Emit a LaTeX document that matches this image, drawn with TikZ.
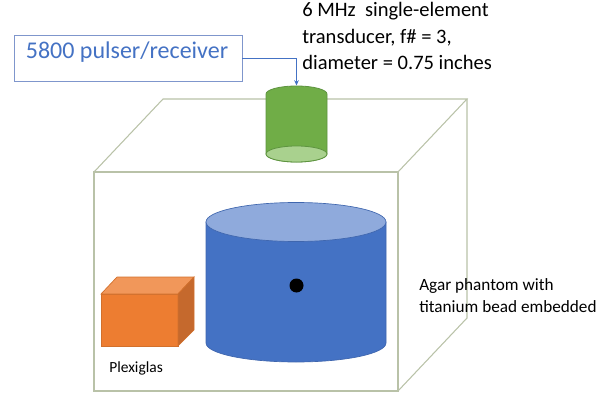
\documentclass[tikz,border=0pt]{standalone}
\usepackage{fontspec}
\setmainfont{Carlito}
\usetikzlibrary{arrows.meta}
\definecolor{phantomline}{HTML}{B9C2A8}
\definecolor{pulserblue}{HTML}{4472C4}
\definecolor{pulserline}{HTML}{7F96CC}
\definecolor{agarside}{HTML}{4472C4}
\definecolor{agartop}{HTML}{8FAADC}
\definecolor{agarline}{HTML}{3F66AE}
\definecolor{xdcrside}{HTML}{70AD47}
\definecolor{xdcrface}{HTML}{A9D18E}
\definecolor{xdcrline}{HTML}{5E9440}
\definecolor{plexfront}{HTML}{ED7D31}
\definecolor{plextop}{HTML}{F1975A}
\definecolor{plexside}{HTML}{C5692D}
\definecolor{plexline}{HTML}{D2702C}
\tikzset{
  phantom/.style={draw=phantomline,line width=0.8pt},
  agar/.style={draw=agarline,line width=0.5pt},
  xdcr/.style={draw=xdcrline,line width=0.6pt},
  plex/.style={draw=plexline,line width=0.5pt},
  signal/.style={draw=pulserblue,line width=0.6pt,-{Stealth[length=4pt,width=3.5pt]}},
  caption/.style={anchor=west,align=left,inner sep=0pt,text=black}
}
\begin{document}
\begin{tikzpicture}[x=0.75pt,y=-0.75pt]
        \useasboundingbox (0,0) rectangle (600,403);

        % agar box
        \draw[phantom] (94,172) rectangle (398,391);
        \draw[phantom] (94,172) -- (163,99) -- (467,99) -- (398,172);
        \draw[phantom] (467,99) -- (467,318) -- (398,391);

        % transducer
        \path[xdcr,fill=xdcrside] (266,94) arc[start angle=180,end angle=360,x radius=30.5,y radius=8]
          -- (327,154) arc[start angle=0,end angle=180,x radius=30.5,y radius=8] -- cycle;
        \draw[xdcr,fill=xdcrface] (296.5,154) ellipse[x radius=30.5,y radius=8];
        \coordinate (xdcrtop) at (296.5,85.5);

        % agar cylinder
        \path[agar,fill=agarside] (206,222) -- (206,343) arc[start angle=180,end angle=0,x radius=90,y radius=19]
          -- (386,222) -- cycle;
        \draw[agar,fill=agartop] (296,222) ellipse[x radius=90,y radius=19.5];
        \fill[black] (296.5,285.5) circle[radius=7];

        % plexiglas
        \path[plex,fill=plexfront] (101,294) rectangle (178,346);
        \path[plex,fill=plextop] (101,294) -- (117,277) -- (194,277) -- (178,294) -- cycle;
        \path[plex,fill=plexside] (178,294) -- (194,277) -- (194,330) -- (178,346) -- cycle;

        % pulser
        \node (pulser) [draw=pulserline,line width=0.7pt,fill=white,minimum width=171pt,minimum height=34.5pt,inner sep=0pt] at (128,58) {};
        \node (pulserlabel) [inner sep=0pt,text=pulserblue,font=\fontsize{18}{20}\selectfont] at (127,52) {5800 pulser/receiver};
        \draw[signal] (pulser.east) -| (xdcrtop);

        % labels
        \node (xdcrlabel) [caption,font=\fontsize{15.4}{20}\selectfont] at (302,36) {6 MHz\ \ single-element\\transducer, f\# = 3,\\diameter = 0.75 inches};
        \node (plexlabel) [caption,font=\fontsize{11.6}{13}\selectfont] at (109,368) {Plexiglas};
        \node (agarlabel) [caption,font=\fontsize{12.9}{16.5}\selectfont] at (419,296) {Agar phantom with\\titanium bead embedded};
\end{tikzpicture}
\end{document}
